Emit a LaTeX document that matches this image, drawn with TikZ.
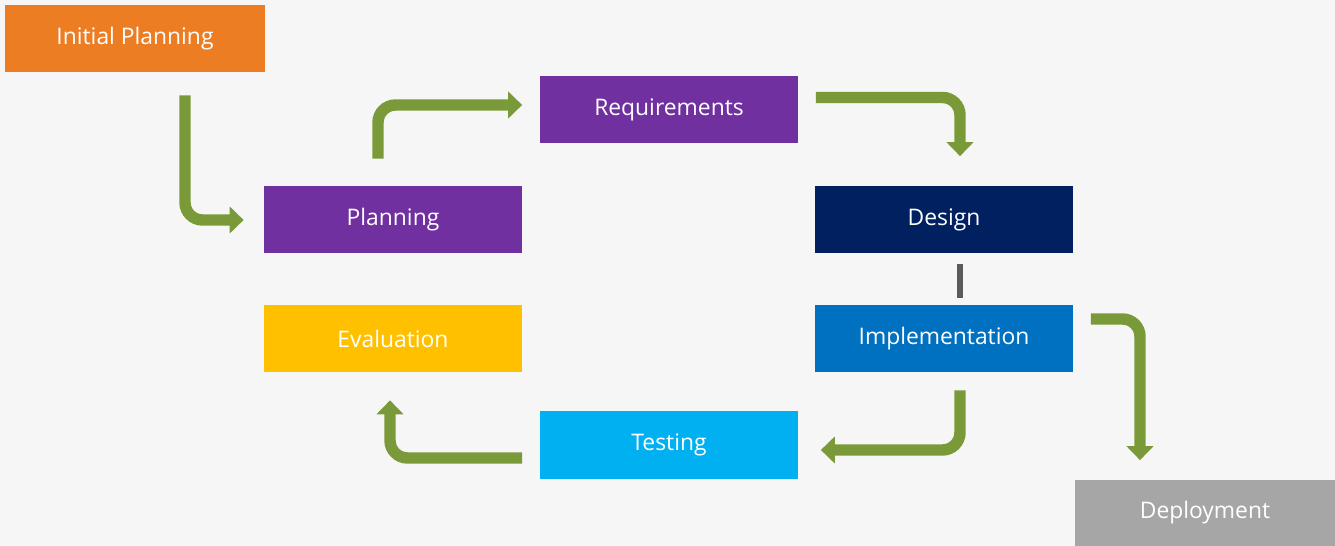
\documentclass[tikz,border=0pt]{standalone}
\usepackage{fontspec}
\setmainfont{Open Sans}
\usetikzlibrary{arrows.meta}
\definecolor{pageback}{RGB}{246,246,246}
\definecolor{cyorange}{RGB}{237,125,34}
\definecolor{cypurple}{RGB}{112,48,160}
\definecolor{cynavy}{RGB}{0,32,96}
\definecolor{cyblue}{RGB}{0,112,192}
\definecolor{cysky}{RGB}{0,176,240}
\definecolor{cyyellow}{RGB}{255,192,0}
\definecolor{cygray}{RGB}{166,166,166}
\definecolor{cygreen}{RGB}{122,154,58}
\definecolor{cylink}{RGB}{90,90,90}

\begin{document}
\begin{tikzpicture}[
    phase/.style={minimum width=5.16cm,minimum height=1.34cm,inner sep=0pt,
      text=white,font=\fontsize{13}{15}\selectfont},
    flow/.style={cygreen,line width=6.5pt,rounded corners=0.35cm,
      -{Triangle[length=8pt,width=15pt]}}]
        \fill[pageback] (0,0) rectangle (26.7,-10.92);
        \useasboundingbox (0,0) rectangle (26.7,-10.92);
        \foreach \n/\x/\y/\c/\t in {req/13.38/-2.2/cypurple/Requirements,
            plan/7.86/-4.4/cypurple/Planning,des/18.88/-4.4/cynavy/Design,
            eval/7.86/-6.78/cyyellow/Evaluation,impl/18.88/-6.78/cyblue/Implementation,
            test/13.38/-8.9/cysky/Testing}
          {\node[phase,fill=\c] (\n) at (\x,\y) {\t};}
        \node[phase,fill=cyorange,minimum width=5.2cm] (init) at (2.7,-0.78) {Initial Planning};
        \node[phase,fill=cygray,minimum width=5.2cm] (dep) at (24.1,-10.26) {Deployment};
        % the loop
        \draw[flow,shorten <=0.45cm,shorten >=0.4cm] ([xshift=1cm]init.south) |- (plan.west);
        \draw[flow,shorten <=0.55cm,shorten >=0.35cm] ([xshift=-0.3cm]plan.north) |- ([yshift=0.1cm]req.west);
        \draw[flow,shorten <=0.35cm,shorten >=0.6cm] ([yshift=0.25cm]req.east) -| ([xshift=0.32cm]des.north);
        \draw[cylink,line width=3.5pt,shorten <=0.2cm,shorten >=0.15cm]
          ([xshift=0.32cm]des.south) -- ([xshift=0.32cm]impl.north);
        \draw[flow,shorten <=0.35cm,shorten >=0.45cm] ([xshift=0.32cm]impl.south) |- ([yshift=-0.1cm]test.east);
        \draw[flow,shorten <=0.35cm,shorten >=0.55cm] ([yshift=-0.26cm]test.west) -| ([xshift=-0.06cm]eval.south);
        \draw[flow,shorten <=0.35cm,shorten >=0.38cm] ([yshift=0.4cm]impl.east) -| ([xshift=-1.3cm]dep.north);
      \end{tikzpicture}
\end{document}
